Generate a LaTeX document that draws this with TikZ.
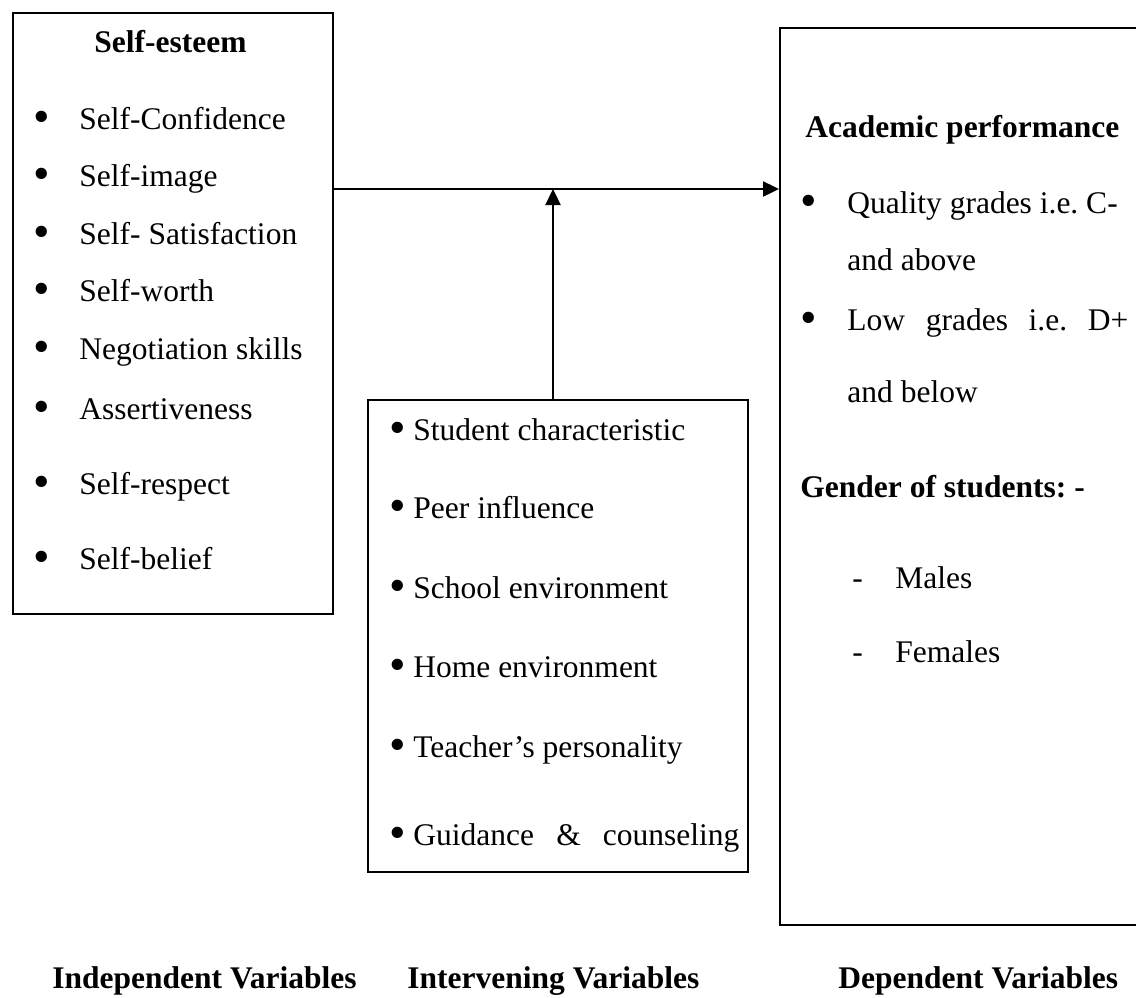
\documentclass[tikz,border=0pt]{standalone}
\usepackage{fontspec}
\setmainfont{Liberation Serif}
\usetikzlibrary{arrows.meta}
\frenchspacing

\newcommand{\bul}{\raisebox{-0.11em}{\scalebox{1.5}{•}}}

\tikzset{
  varbox/.style={draw, line width=1pt, rectangle, anchor=north west, inner sep=0pt},
  item/.style={anchor=base west, inner sep=0pt, font=\fontsize{15.75}{19}\selectfont},
  head/.style={anchor=base west, inner sep=0pt, font=\fontsize{15.75}{19}\selectfont\bfseries},
  link/.style={line width=1.2pt, -{Triangle[length=8pt,width=7.5pt]}},
}

\begin{document}
\begin{tikzpicture}[x=.5pt,y=-.5pt]
\useasboundingbox (0,0) rectangle (1136,997);
\clip (0,0) rectangle (1136,997); % right box runs off the page

\node[varbox, minimum width=160pt, minimum height=300.5pt] (indep) at (12,12) {};
\node[varbox, minimum width=190pt, minimum height=236pt] (interv) at (367,399) {};
\node[varbox, minimum width=200pt, minimum height=448.5pt] (dep) at (779,27) {};

% independent variables
\node[head] (esteem) at (94,52) {Self-esteem};
\node[item] (ie1) at (33,129) {\makebox[23pt][l]{\bul}Self-Confidence};
\node[item] (ie2) at (33,186) {\makebox[23pt][l]{\bul}Self-image};
\node[item] (ie3) at (33,244) {\makebox[23pt][l]{\bul}Self- Satisfaction};
\node[item] (ie4) at (33,301) {\makebox[23pt][l]{\bul}Self-worth};
\node[item] (ie5) at (33,359) {\makebox[23pt][l]{\bul}Negotiation skills};
\node[item] (ie6) at (33,419) {\makebox[23pt][l]{\bul}Assertiveness};
\node[item] (ie7) at (33,494) {\makebox[23pt][l]{\bul}Self-respect};
\node[item] (ie8) at (33,569) {\makebox[23pt][l]{\bul}Self-belief};

% intervening variables
\node[item] (iv1) at (389,440) {\makebox[12pt][l]{\bul}Student characteristic};
\node[item] (iv2) at (389,518) {\makebox[12pt][l]{\bul}Peer influence};
\node[item] (iv3) at (389,598) {\makebox[12pt][l]{\bul}School environment};
\node[item] (iv4) at (389,677) {\makebox[12pt][l]{\bul}Home environment};
\node[item] (iv5) at (389,757) {\makebox[12pt][l]{\bul}Teacher’s personality};
\node[item] (iv6) at (389,845) {\makebox[12pt][l]{\bul}\makebox[163pt][s]{Guidance \& counseling}};

% dependent variables
\node[head] (perf) at (805,137) {Academic performance};
\node[item] (dv1) at (800,213) {\makebox[23.5pt][l]{\bul}Quality grades i.e. C-};
\node[item] (dv1b) at (847,270) {and above};
\node[item] (dv2) at (800,330) {\makebox[23.5pt][l]{\bul}\makebox[140.5pt][s]{Low grades i.e. D+}};
\node[item] (dv2b) at (847,402) {and below};
\node[head] (gender) at (800,497) {Gender of students: -};
\node[item] (male) at (852,588) {\makebox[21.5pt][l]{-}Males};
\node[item] (female) at (852,662) {\makebox[21.5pt][l]{-}Females};

% links
\coordinate (junction) at (553,189);
\draw[link] (indep.east |- junction) -- (dep.west |- junction);
\draw[link] (interv.north -| junction) -- (junction);

% captions
\node[head] (lbindep) at (52,988) {Independent Variables};
\node[head] (lbinterv) at (407,988) {Intervening Variables};
\node[head] (lbdep) at (838,988) {Dependent Variables};

\end{tikzpicture}
\end{document}
